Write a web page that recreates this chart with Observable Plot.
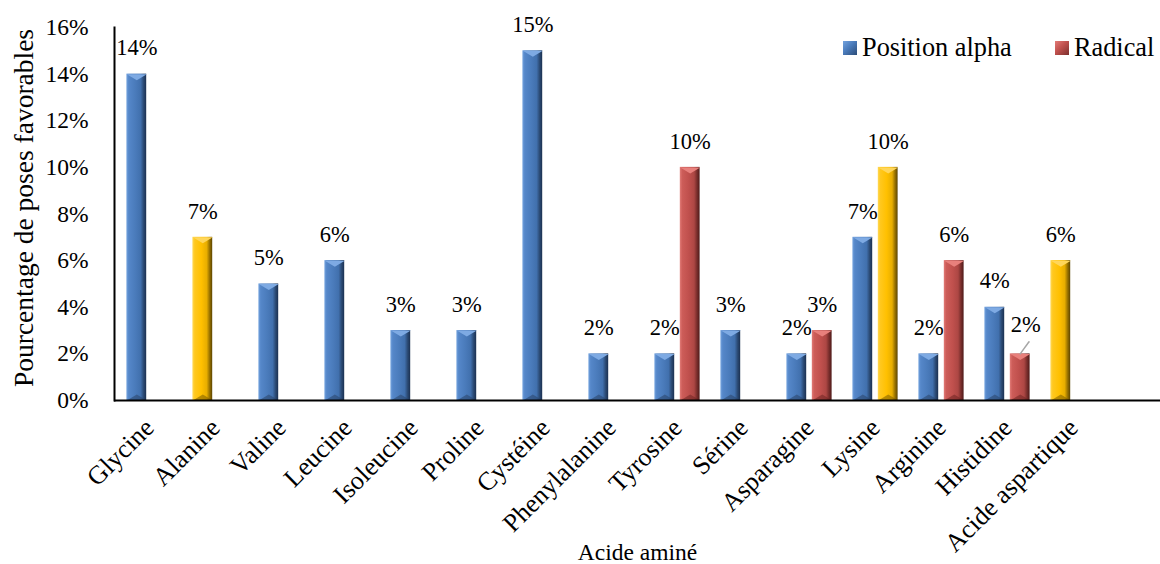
<!DOCTYPE html>
<html>
<head>
<meta charset="utf-8">
<script src="https://cdn.jsdelivr.net/npm/d3@7"></script>
<script src="https://cdn.jsdelivr.net/npm/@observablehq/plot@0.6"></script>
<style>
  html, body { margin: 0; padding: 0; background: #fff; overflow: hidden; }
  #wrap { position: relative; width: 1160px; height: 564px; font-family: "Liberation Serif", "Times New Roman", serif; }
  .leg-sw { position: absolute; width: 14px; height: 14px; }
  .leg-tx { position: absolute; font-size: 26.3px; line-height: 30px; color: #000; white-space: nowrap; }
</style>
</head>
<body>
<div id="wrap"></div>
<script>
// ---- data ----
const categories = ["Glycine", "Alanine", "Valine", "Leucine", "Isoleucine", "Proline", "Cystéine",
  "Phenylalanine", "Tyrosine", "Sérine", "Asparagine", "Lysine", "Arginine", "Histidine", "Acide aspartique"];
const positionAlpha = [14, 7, 5, 6, 3, 3, 15, 2, 2, 3, 2, 7, 2, 4, 6];
const radical = [null, null, null, null, null, null, null, null, 10, null, 3, 10, 6, 2, null];
const highlightAlpha = ["Alanine", "Acide aspartique"];
const highlightRadical = ["Lysine"];
const yTicks = [0, 2, 4, 6, 8, 10, 12, 14, 16];
const seriesNames = ["Position alpha", "Radical"];
const xTitle = "Acide aminé";
const yTitle = "Pourcentage de poses favorables";

// ---- table ----
const rows = [];
categories.forEach((c, i) => {
  if (positionAlpha[i] != null) rows.push({cat: c, series: seriesNames[0], value: positionAlpha[i],
    color: highlightAlpha.includes(c) ? "yellow" : "blue"});
  if (radical[i] != null) rows.push({cat: c, series: seriesNames[1], value: radical[i],
    color: highlightRadical.includes(c) ? "yellow" : "red"});
});

const FONT = "'Liberation Serif', 'Times New Roman', serif";
const palette = {
  blue:   {stops: ["#74a3de", "#5587c9", "#4a7bbb", "#4170ad", "#2c4c77", "#1b3050"], cap: "#7eaae3", base: "#2a4468"},
  red:    {stops: ["#e27c78", "#cd5d59", "#c0504d", "#ad4744", "#7b2f2d", "#4e1a19"], cap: "#e8807c", base: "#6e2523"},
  yellow: {stops: ["#ffd957", "#ffc81f", "#ffc000", "#e8ae00", "#9c7500", "#5c4400"], cap: "#ffd65a", base: "#7a5b00"}
};
const stopOffsets = [0, 0.12, 0.45, 0.72, 0.86, 1];

const W = 1160, H = 564, mL = 114, mT = 27, mB = 164;
const step = 66.2;             // category band width
const barW = 20, slotGap = 25.4;
const off = slotGap / 2;       // slot centre offset from category centre
const inA = step / 2 - off - barW / 2;
const inB = step - inA - barW;

const capSym = {draw(ctx, size) { const r = Math.sqrt(size / Math.PI); ctx.moveTo(-r, 0); ctx.lineTo(r, 0); ctx.lineTo(0, r * 0.6); ctx.closePath(); }};
const baseSym = {draw(ctx, size) { const r = Math.sqrt(size / Math.PI); ctx.moveTo(-r, 0); ctx.lineTo(r, 0); ctx.lineTo(0, -r * 0.6); ctx.closePath(); }};
const leaderSym = {draw(ctx, l) { ctx.moveTo(0, 0); ctx.lineTo(0, -l); }};

const barMarks = [];
for (const [si, s] of seriesNames.entries()) {
  const sd = si === 0 ? -off : off;
  for (const col of ["blue", "red", "yellow"]) {
    const data = rows.filter(d => d.series === s && d.color === col);
    if (!data.length) continue;
    barMarks.push(Plot.barY(data, {x: "cat", y: "value", fill: `url(#g-${col})`,
      insetLeft: si === 0 ? inA : inB, insetRight: si === 0 ? inB : inA}));
    barMarks.push(Plot.dot(data, {x: "cat", y: "value", dx: sd, symbol: capSym, r: barW / 2, fill: palette[col].cap, stroke: "none"}));
    barMarks.push(Plot.dot(data, {x: "cat", y: () => 0, dx: sd, symbol: baseSym, r: barW / 2, fill: palette[col].base, fillOpacity: 0.55, stroke: "none"}));
  }
  const normal = rows.filter(d => d.series === s && !(s === "Radical" && d.cat === "Histidine"));
  barMarks.push(Plot.text(normal, {x: "cat", y: "value", text: d => d.value + "%", dx: sd, dy: -26, fontSize: 22.5, fontFamily: FONT}));
}
// displaced label with leader line (Histidine, Radical)
const moved = rows.filter(d => d.series === "Radical" && d.cat === "Histidine");
barMarks.push(Plot.vector(moved, {x: "cat", y: "value", dx: off, anchor: "start", length: 15, rotate: 36, shape: leaderSym, stroke: "#a6a6a6", strokeWidth: 1.5}));
barMarks.push(Plot.text(moved, {x: "cat", y: "value", text: d => d.value + "%", dx: off + 5.5, dy: -29, fontSize: 22.5, fontFamily: FONT}));

const chart = Plot.plot({
  width: W, height: H,
  marginLeft: mL, marginRight: 0, marginTop: mT, marginBottom: mB,
  style: {fontFamily: FONT, fontSize: "23.5px", color: "#000", background: "transparent", overflow: "visible"},
  x: {domain: categories, range: [mL + 0.3, mL + 0.3 + step * categories.length], padding: 0},
  y: {domain: [0, 16], range: [H - mB, mT]},
  marks: [
    Plot.axisY({ticks: yTicks, tickSize: 0, tickPadding: 26, tickFormat: d => d + "%", label: null, fontSize: 23.5, fontFamily: FONT}),
    Plot.axisX({tickSize: 0, tickRotate: -45, tickPadding: 23, label: null, fontSize: 26, fontFamily: FONT}),
    ...barMarks,
    Plot.ruleY([0], {stroke: "#000", strokeWidth: 2}),
    Plot.frame({anchor: "left", stroke: "#000", strokeWidth: 2}),
    Plot.text([xTitle], {frameAnchor: "bottom", lineAnchor: "middle", dy: 151.5, fontSize: 23.5, fontFamily: FONT}),
    Plot.text([yTitle], {frameAnchor: "left", textAnchor: "middle", lineAnchor: "middle", rotate: -90, dx: -90, dy: -6, fontSize: 27.5, fontFamily: FONT})
  ]
});

// gradients
const defs = d3.select(chart).insert("defs", ":first-child");
for (const [name, p] of Object.entries(palette)) {
  const g = defs.append("linearGradient").attr("id", `g-${name}`).attr("x1", 0).attr("x2", 1).attr("y1", 0).attr("y2", 0);
  p.stops.forEach((c, i) => g.append("stop").attr("offset", stopOffsets[i]).attr("stop-color", c));
}

const wrap = document.getElementById("wrap");
wrap.appendChild(chart);

// legend
const legendItems = [
  {label: seriesNames[0], col: "blue", sx: 843, tx: 862},
  {label: seriesNames[1], col: "red", sx: 1055, tx: 1074}
];
for (const it of legendItems) {
  const sw = document.createElement("div");
  sw.className = "leg-sw";
  sw.style.left = it.sx + "px"; sw.style.top = "41px";
  const st = palette[it.col].stops;
  sw.style.background = `linear-gradient(135deg, ${st[0]} 0%, ${st[2]} 45%, ${st[4]} 100%)`;
  wrap.appendChild(sw);
  const tx = document.createElement("div");
  tx.className = "leg-tx";
  tx.style.left = it.tx + "px"; tx.style.top = "33px";
  tx.textContent = it.label;
  wrap.appendChild(tx);
}
</script>
</body>
</html>
